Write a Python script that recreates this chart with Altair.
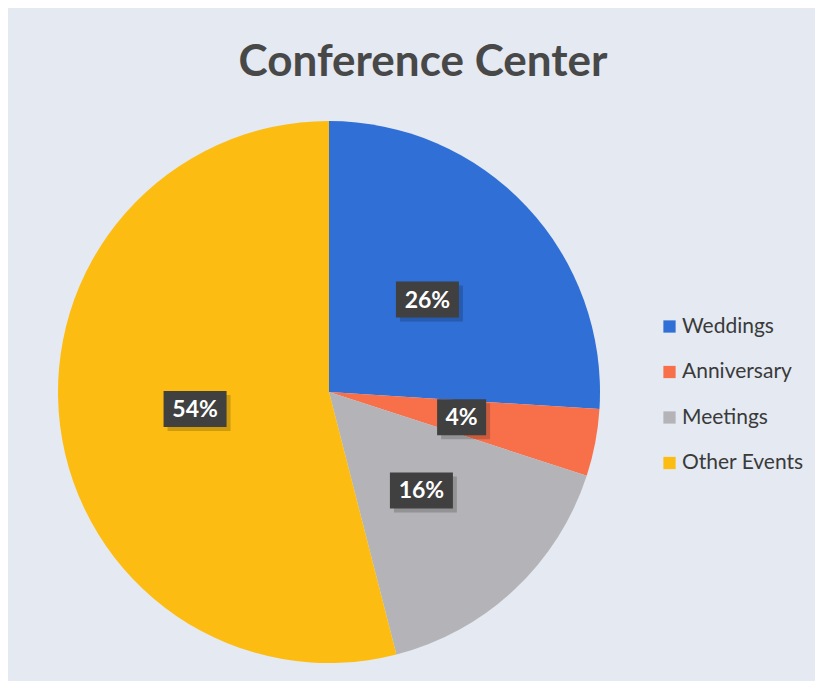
import altair as alt
import pandas as pd

categories = ["Weddings", "Anniversary", "Meetings", "Other Events"]
values = [26, 4, 16, 54]
labels = ["26%", "4%", "16%", "54%"]
colors = ["#2f6fd6", "#f7704a", "#b4b4b8", "#fcbc12"]

df = pd.DataFrame({
    "category": categories,
    "value": values,
    "label": labels,
    "idx": list(range(len(categories))),
})

W = H = 560
CX, CY = W / 2, H / 2
R = 271
LR = 135
FONT = "Lato"

base = alt.Chart(df)

pie = base.mark_arc(outerRadius=R, stroke=None).encode(
    theta=alt.Theta("value:Q", stack=True),
    color=alt.Color(
        "category:N",
        scale=alt.Scale(domain=categories, range=colors),
        sort=categories,
        legend=alt.Legend(
            title=None,
            orient="none",
            legendX=610,
            legendY=204,
            symbolType="square",
            symbolSize=150,
            symbolStrokeWidth=0,
            labelFont=FONT,
            labelFontSize=21,
            labelColor="#3a3a3a",
            labelOffset=2,
            rowPadding=23.5,
            padding=0,
        ),
    ),
    order=alt.Order("idx:Q"),
)

pos = base.transform_window(
    cum="sum(value)", sort=[{"field": "idx"}]
).transform_joinaggregate(
    total="sum(value)"
).transform_calculate(
    mid=f"(datum.cum - datum.value / 2) / datum.total * 2 * PI",
).transform_calculate(
    bx=f"{CX} + {LR} * sin(datum.mid)",
    by=f"{CY} - {LR} * cos(datum.mid)",
    hw="length(datum.label) >= 3 ? 31.5 : 24.5",
).transform_calculate(
    x1="datum.bx - datum.hw",
    x2="datum.bx + datum.hw",
    y1="datum.by - 18",
    y2="datum.by + 18",
    sx1="datum.bx - datum.hw + 4",
    sx2="datum.bx + datum.hw + 4",
    sy1="datum.by - 18 + 4",
    sy2="datum.by + 18 + 4",
)

shadow = pos.mark_rect(color="#000000", opacity=0.18).encode(
    x=alt.X("sx1:Q", scale=None),
    x2="sx2:Q",
    y=alt.Y("sy1:Q", scale=None),
    y2="sy2:Q",
)

boxes = pos.mark_rect(color="#404040").encode(
    x=alt.X("x1:Q", scale=None),
    x2="x2:Q",
    y=alt.Y("y1:Q", scale=None),
    y2="y2:Q",
)

texts = pos.mark_text(
    font=FONT, fontSize=23, fontWeight="bold", color="#ffffff",
    align="center", baseline="middle", dy=1,
).encode(
    x=alt.X("bx:Q", scale=None),
    y=alt.Y("by:Q", scale=None),
    text="label:N",
)

chart = alt.layer(pie, shadow, boxes, texts).properties(
    width=W,
    height=H,
    autosize=alt.AutoSizeParams(type="none"),
    padding={"left": 41, "top": 104, "right": 206, "bottom": 9},
    background="#e4e9f2",
    title=alt.Title(
        "Conference Center",
        font=FONT,
        fontSize=44,
        fontWeight="bold",
        color="#484848",
        anchor="middle",
        dx=94,
        dy=45,
        baseline="alphabetic",
        offset=37,
    ),
).configure_view(stroke=None)

chart.save("out.html", embed_options={"renderer": "svg", "actions": False})
